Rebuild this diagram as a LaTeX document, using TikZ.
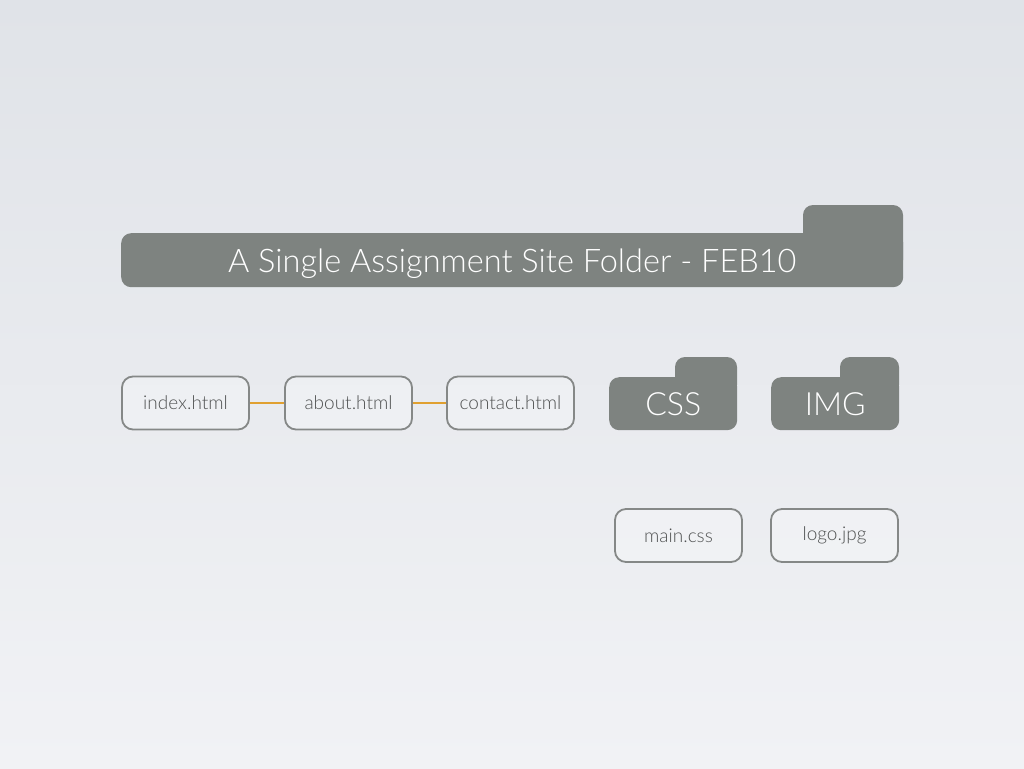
\documentclass[tikz,border=0pt]{standalone}
\usepackage{fontspec}
\setmainfont{Lato Light}
\definecolor{bgtop}{HTML}{E0E3E8}
\definecolor{bgbot}{HTML}{F1F2F5}
\definecolor{folder}{HTML}{7E8380}
\definecolor{filebd}{HTML}{858887}
\definecolor{filetx}{HTML}{505252}
\definecolor{link}{HTML}{E0A030}
\tikzset{
  folderbody/.style={fill=folder, rounded corners=10pt, inner sep=0pt, text=white},
  foldertab/.style={fill=folder, rounded corners=10pt},
  filebox/.style={draw=filebd, line width=1.8pt, rounded corners=11pt, fill=white, fill opacity=0.25, text opacity=1,
    minimum width=127pt, minimum height=53pt, inner sep=0pt, text=filetx, font=\fontsize{19}{21}\selectfont},
  linkline/.style={draw=link, line width=1.6pt}
}
\begin{document}
\begin{tikzpicture}[x=1pt,y=-1pt]
\useasboundingbox (0,0) rectangle (1024,768);
\shade[top color=bgtop, bottom color=bgbot] (0,0) rectangle (1024,768);
% main folder
\path[foldertab] (803,205) rectangle (903,270);
\node[folderbody, minimum width=782pt, minimum height=54pt, anchor=north west,
  font=\fontsize{32.5}{36}\selectfont] (site) at (121,233) {\raisebox{-12pt}[0pt][0pt]{A Single Assignment Site Folder - FEB10}};
% files
\node[filebox] (index) at (185.5,403) {index.html};
\node[filebox] (about) at (348.5,403) {about.html};
\node[filebox] (contact) at (510.5,403) {contact.html};
\draw[linkline] (index) -- (about);
\draw[linkline] (about) -- (contact);
% CSS folder
\path[foldertab] (675,357) rectangle (737,395);
\node[folderbody, minimum width=128pt, minimum height=53pt, anchor=north west,
  font=\fontsize{32}{34}\selectfont] (css) at (609,377) {CSS};
% IMG folder
\path[foldertab] (840,357) rectangle (899,395);
\node[folderbody, minimum width=128pt, minimum height=53pt, anchor=north west,
  font=\fontsize{32}{34}\selectfont] (img) at (771,377) {IMG};
% files in folders
\node[filebox] (maincss) at (678.5,535.5) {main.css};
\node[filebox] (logo) at (834.5,535.5) {logo.jpg};
\end{tikzpicture}
\end{document}
